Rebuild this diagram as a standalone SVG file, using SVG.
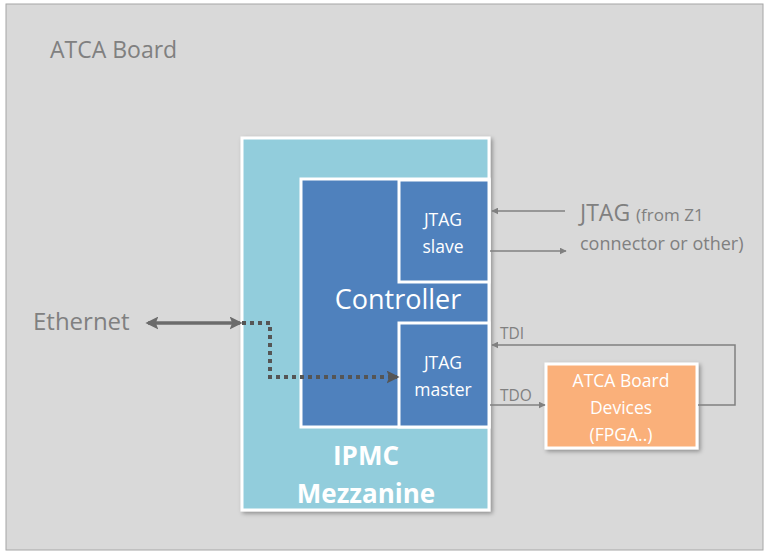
<svg xmlns="http://www.w3.org/2000/svg" width="768" height="554" viewBox="0 0 768 554">
<defs>
<style>
.t{font-family:"Open Sans","Liberation Sans",sans-serif;}
.gray{fill:#808080;}
.wh{fill:#ffffff;}
.ln{stroke:#808080;stroke-width:1.5;fill:none;}
</style>
<marker id="ah" viewBox="0 0 10 10" refX="9" refY="5" markerWidth="7" markerHeight="7" orient="auto-start-reverse" markerUnits="userSpaceOnUse"><path d="M0,0 L10,5 L0,10 z" fill="#808080"/></marker>
<marker id="ahb" viewBox="0 0 10 10" refX="8" refY="5" markerWidth="13" markerHeight="13" orient="auto-start-reverse" markerUnits="userSpaceOnUse"><path d="M0,0 L10,5 L0,10 L2,5 z" fill="#6b6b6b"/></marker>
<marker id="ahd" viewBox="0 0 10 10" refX="8" refY="5" markerWidth="13" markerHeight="13" orient="auto" markerUnits="userSpaceOnUse"><path d="M0,0 L10,5 L0,10 L2,5 z" fill="#555555"/></marker>
<filter id="sh" x="-10%" y="-10%" width="130%" height="130%"><feDropShadow dx="2" dy="2" stdDeviation="2" flood-color="#000" flood-opacity="0.35"/></filter>
</defs>
<rect width="768" height="554" fill="#ffffff"/>
<g id="board">
<rect x="6" y="4" width="757" height="546" fill="#d9d9d9" stroke="#a6a6a6" stroke-width="1"/>
<text class="t gray" x="50" y="58" font-size="23">ATCA Board</text>
</g>
<g id="ipmc">
<rect x="242" y="138" width="247" height="372" fill="#92cddc" stroke="#ffffff" stroke-width="3" filter="url(#sh)"/>
<text class="t wh" x="366" y="465" font-size="26" font-weight="bold" text-anchor="middle">IPMC</text>
<text class="t wh" x="366" y="503" font-size="26" font-weight="bold" text-anchor="middle">Mezzanine</text>
</g>
<g id="controller">
<rect x="301" y="179" width="188" height="248" fill="#4f81bd" stroke="#ffffff" stroke-width="3"/>
<text class="t wh" x="398" y="309" font-size="27" text-anchor="middle">Controller</text>
</g>
<g id="jtag-slave">
<rect x="399" y="180" width="90" height="102" fill="#4f81bd" stroke="#ffffff" stroke-width="3"/>
<text class="t wh" x="443" y="226" font-size="17.5" text-anchor="middle">JTAG</text>
<text class="t wh" x="443" y="253" font-size="17.5" text-anchor="middle">slave</text>
</g>
<g id="jtag-master">
<rect x="399" y="323" width="90" height="104" fill="#4f81bd" stroke="#ffffff" stroke-width="3"/>
<text class="t wh" x="443" y="369" font-size="17.5" text-anchor="middle">JTAG</text>
<text class="t wh" x="443" y="396" font-size="17.5" text-anchor="middle">master</text>
</g>
<g id="devices">
<rect x="546" y="364" width="151" height="84" fill="#fab07a" stroke="#ffffff" stroke-width="3" filter="url(#sh)"/>
<text class="t wh" x="621" y="387" font-size="17.5" text-anchor="middle">ATCA Board</text>
<text class="t wh" x="621" y="414" font-size="17.5" text-anchor="middle">Devices</text>
<text class="t wh" x="621" y="441" font-size="17.5" text-anchor="middle">(FPGA..)</text>
</g>
<g id="labels">
<text class="t gray" x="580" y="221" font-size="23">JTAG <tspan font-size="17">(from Z1</tspan></text>
<text class="t gray" x="580" y="250" font-size="18">connector or other)</text>
<text class="t gray" x="33" y="330" font-size="24">Ethernet</text>
<text class="t gray" x="500" y="339" font-size="15.5">TDI</text>
<text class="t gray" x="500" y="401" font-size="15.5">TDO</text>
</g>
<g id="connectors">
<line class="ln" x1="565" y1="211" x2="492" y2="211" marker-end="url(#ah)"/>
<line class="ln" x1="490" y1="251" x2="566" y2="251" marker-end="url(#ah)"/>
<polyline class="ln" points="698,405 735,405 735,345 492,345" marker-end="url(#ah)"/>
<line class="ln" x1="490" y1="405" x2="545" y2="405" marker-end="url(#ah)"/>
<line x1="148" y1="323" x2="240" y2="323" stroke="#6b6b6b" stroke-width="3.5" marker-start="url(#ahb)" marker-end="url(#ahb)"/>
<polyline points="242,323 270,323 270,377 397,377" fill="none" stroke="#555555" stroke-width="4" stroke-dasharray="4,4" marker-end="url(#ahd)"/>
</g>
</svg>
